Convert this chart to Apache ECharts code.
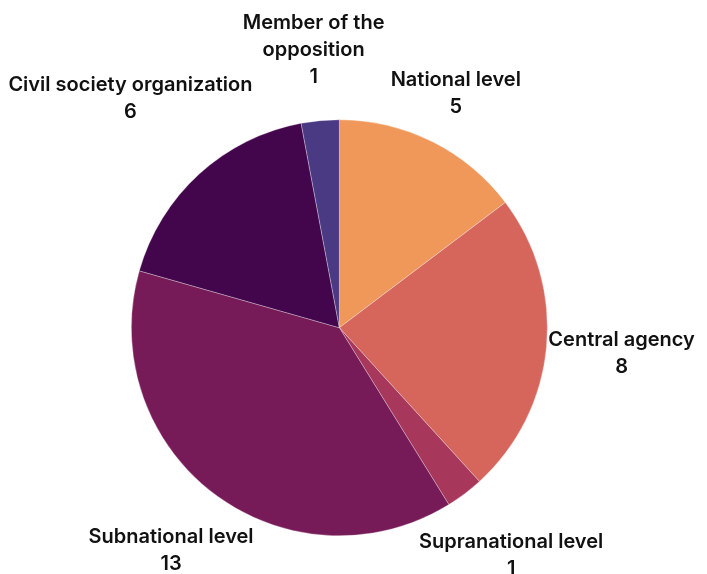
<!DOCTYPE html>
<html>
<head>
<meta charset="utf-8">
<script src="https://cdn.jsdelivr.net/npm/echarts@6/dist/echarts.min.js"></script>
<style>
  html, body { margin: 0; padding: 0; background: #fff; }
  #chart { width: 707px; height: 574px; }
</style>
</head>
<body>
<div id="chart"></div>
<script>
// slices, clockwise from 12 o'clock
var categories = ['National level', 'Central agency', 'Supranational level', 'Subnational level', 'Civil society organization', 'Member of the opposition']
var values = [5, 8, 1, 13, 6, 1]
var labelText = ['National level', 'Central agency', 'Supranational level', 'Subnational level', 'Civil society organization', 'Member of the\nopposition']
var colors = ['#F0975A', '#D6665B', '#A8375C', '#771A58', '#43064C', '#4A3A84']

var W = 707, H = 574
var cx = W * 0.48, cy = H * 0.571, R = 208
var total = values.reduce(function (a, b) { return a + b }, 0)

// mid angle of each slice (radians, clockwise from top)
var midAngle = []
var acc = 0
values.forEach(function (v) {
  midAngle.push((acc + v / 2) / total * Math.PI * 2)
  acc += v
})

var myChart = echarts.init(document.getElementById('chart'), null, { renderer: 'canvas' })
var option = {
  backgroundColor: '#fff',
  animation: false,
  series: [
    {
      type: 'pie',
      center: [cx, cy],
      radius: R,
      startAngle: 90,
      clockwise: true,
      itemStyle: {
        borderColor: 'rgba(255,255,255,0.6)',
        borderWidth: 0.5
      },
      label: {
        show: true,
        position: 'outside',
        formatter: function (p) {
          return labelText[p.dataIndex] + '\n' + p.value
        },
        fontFamily: 'Inter',
        fontWeight: 600,
        fontSize: 20,
        lineHeight: 27,
        color: '#111',
        align: 'center',
        overflow: 'none'
      },
      labelLine: { show: false },
      labelLayout: function (params) {
        // put the label box just outside the circle on the slice bisector
        var a = midAngle[params.dataIndex]
        var s = Math.sin(a), c = Math.cos(a)
        var w = params.labelRect.width, h = params.labelRect.height
        // the small top slice label sits a bit further out
        var gap = params.dataIndex === 5 ? 24 : 0
        var d = R + gap + Math.abs(s) * w / 2 + Math.abs(c) * h / 2
        return {
          x: cx + s * d,
          y: cy - c * d,
          align: 'center',
          verticalAlign: 'middle'
        }
      },
      data: categories.map(function (name, i) {
        return { name: name, value: values[i], itemStyle: { color: colors[i] } }
      })
    }
  ]
}
myChart.setOption(option)
</script>
</body>
</html>
